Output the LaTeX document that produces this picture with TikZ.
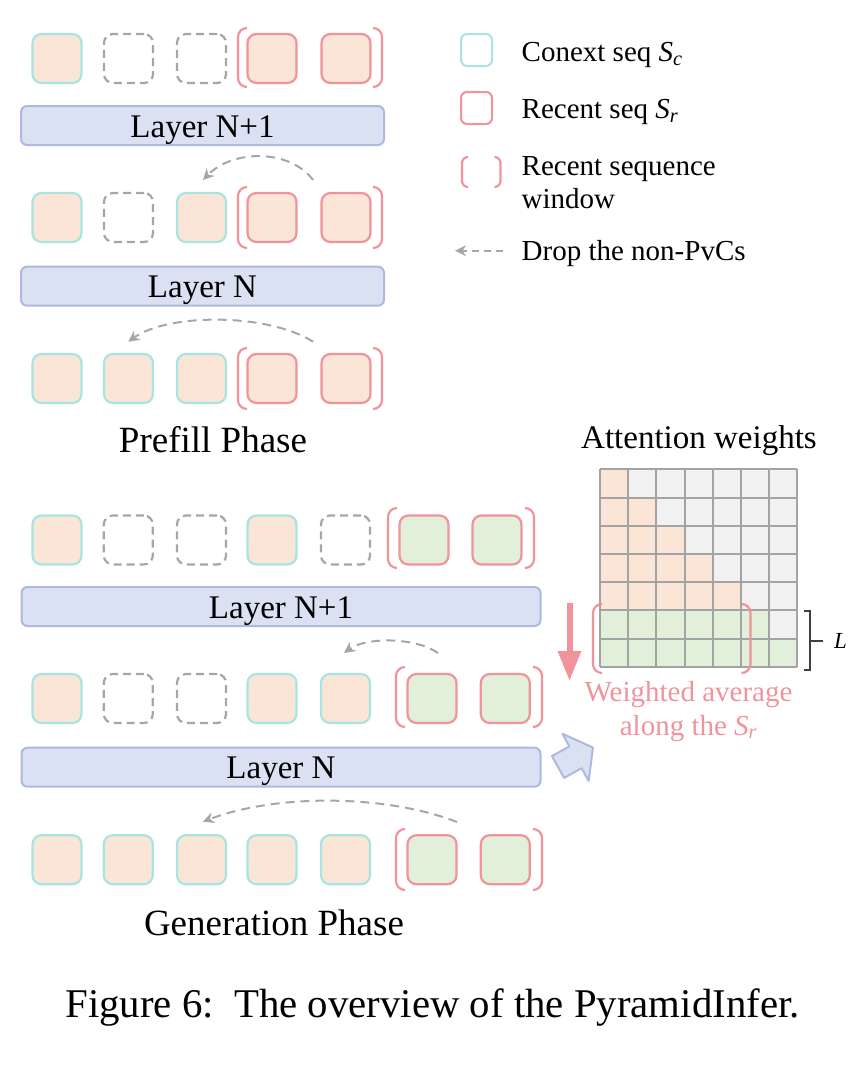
\documentclass[tikz,border=0pt]{standalone}
\usepackage{fontspec}
\setmainfont{Liberation Serif}
\usetikzlibrary{arrows.meta}
\definecolor{peach}{HTML}{FBE5D6}
\definecolor{cyanb}{HTML}{A6E5E1}
\definecolor{pinkb}{HTML}{F0939B}
\definecolor{greenf}{HTML}{E2EFDA}
\definecolor{greyd}{HTML}{A6A6A6}
\definecolor{barf}{HTML}{DAE1F3}
\definecolor{barb}{HTML}{AEB9DE}
\definecolor{gridc}{HTML}{A3A3A3}
\definecolor{cellg}{HTML}{F1F1F1}
\definecolor{darkb}{HTML}{404040}
\newcommand\recbr[5]{%
  \draw[brk,rounded corners=#5] (#1+#5,#3) -- (#1,#3) -- (#1,#4) -- (#1+#5,#4);
  \draw[brk,rounded corners=#5] (#2-#5,#3) -- (#2,#3) -- (#2,#4) -- (#2-#5,#4);}
\begin{document}
\begin{tikzpicture}[x=1pt,y=-1pt,
  tok/.style={line width=2.2pt, rounded corners=9pt, minimum width=49pt, minimum height=49pt, inner sep=0pt},
  ctx/.style={tok, draw=cyanb, fill=peach},
  rec/.style={tok, draw=pinkb, fill=peach},
  recg/.style={tok, draw=pinkb, fill=greenf},
  drop/.style={tok, draw=greyd, dash pattern=on 8pt off 5pt},
  brk/.style={draw=pinkb, line width=2.2pt},
  layerbar/.style={draw=barb, fill=barf, line width=2pt, rounded corners=6pt, minimum height=39pt, text height=23pt, text depth=0pt, inner sep=0pt, font=\fontsize{33}{40}\selectfont},
  dropar/.style={draw=greyd, line width=2pt, dash pattern=on 9pt off 6pt, -{Stealth[length=11pt,width=11pt,inset=3.5pt]}},
  lgd/.style={anchor=base west, inner sep=0pt, font=\fontsize{29}{34}\selectfont},
  phase/.style={anchor=base, inner sep=0pt, font=\fontsize{37}{44}\selectfont},
  ptxt/.style={anchor=base, inner sep=0pt, text=pinkb, font=\fontsize{29}{34}\selectfont}
]
\useasboundingbox (0,0) rectangle (860,1068);

% ---------- Prefill phase ----------
\node[ctx]  (p1a) at (57,58.5) {};
\node[drop] (p1b) at (128.5,58.5) {};
\node[drop] (p1c) at (201.5,58.5) {};
\node[rec]  (p1d) at (272,58.5) {};
\node[rec]  (p1e) at (346,58.5) {};
\recbr{238}{382}{28}{87}{9}
\node[layerbar, minimum width=363pt] (pL1) at (202.5,125.5) {Layer N+1};

\node[ctx]  (p2a) at (57,217.5) {};
\node[drop] (p2b) at (128.5,217.5) {};
\node[ctx]  (p2c) at (201.5,217.5) {};
\node[rec]  (p2d) at (272,217.5) {};
\node[rec]  (p2e) at (346,217.5) {};
\recbr{238}{382}{187}{248}{9}
\node[layerbar, minimum width=363pt] (pL0) at (202.5,286.2) {Layer N};

\node[ctx] (p3a) at (57,378.5) {};
\node[ctx] (p3b) at (128.5,378.5) {};
\node[ctx] (p3c) at (201.5,378.5) {};
\node[rec] (p3d) at (272,378.5) {};
\node[rec] (p3e) at (346,378.5) {};
\recbr{238}{382}{348}{409}{9}

\coordinate (pa1s) at (313,180);
\coordinate (pa1e) at (203,180);
\draw[dropar] (pa1s) .. controls (290,149) and (233,149) .. (pa1e);
\coordinate (pa2s) at (313,341.7);
\coordinate (pa2e) at (128.3,341.7);
\draw[dropar] (pa2s) .. controls (268,313) and (168,313) .. (pa2e);

\node[phase] (prefill) at (213,452) {Prefill Phase};

% ---------- Generation phase ----------
\node[ctx]  (g1a) at (57,540) {};
\node[drop] (g1b) at (128.3,540) {};
\node[drop] (g1c) at (201.5,540) {};
\node[ctx]  (g1d) at (272,540) {};
\node[drop] (g1e) at (345.5,540) {};
\node[recg] (g1f) at (424,540) {};
\node[recg] (g1g) at (497,540) {};
\recbr{388}{534}{508}{568}{9}
\node[layerbar, minimum width=519pt] (gL1) at (281,606.5) {Layer N+1};

\node[ctx]  (g2a) at (57,698.5) {};
\node[drop] (g2b) at (128.3,698.5) {};
\node[drop] (g2c) at (201.5,698.5) {};
\node[ctx]  (g2d) at (272,698.5) {};
\node[ctx]  (g2e) at (345.5,698.5) {};
\node[recg] (g2f) at (432,698.5) {};
\node[recg] (g2g) at (505.3,698.5) {};
\recbr{396}{542}{667}{727}{9}
\node[layerbar, minimum width=519pt] (gL0) at (281,767.2) {Layer N};

\node[ctx]  (g3a) at (57,859.7) {};
\node[ctx]  (g3b) at (128.3,859.7) {};
\node[ctx]  (g3c) at (201.5,859.7) {};
\node[ctx]  (g3d) at (272,859.7) {};
\node[ctx]  (g3e) at (345.5,859.7) {};
\node[recg] (g3f) at (432,859.7) {};
\node[recg] (g3g) at (505.3,859.7) {};
\recbr{396}{542}{829}{890}{9}

\coordinate (ga1s) at (438,653);
\coordinate (ga1e) at (344,653);
\draw[dropar] (ga1s) .. controls (415,637) and (366,637) .. (ga1e);
\coordinate (ga2s) at (457,822);
\coordinate (ga2e) at (203,821.7);
\draw[dropar] (ga2s) .. controls (385,794) and (275,794) .. (ga2e);

\node[phase] (gen) at (274,935) {Generation Phase};

% ---------- Legend ----------
\node[draw=cyanb, line width=2pt, rounded corners=6pt, minimum width=31pt, minimum height=32pt, inner sep=0pt] (lc) at (476.5,50) {};
\node[lgd] (lct) at (521.5,61.7) {Conext seq \textit{S}\textsubscript{\textit{c}}};
\node[draw=pinkb, line width=2pt, rounded corners=6pt, minimum width=31pt, minimum height=32pt, inner sep=0pt] (lr) at (476.5,108) {};
\node[lgd] (lrt) at (521.5,118.3) {Recent seq \textit{S}\textsubscript{\textit{r}}};
\recbr{462}{500.5}{157}{187}{6}
\node[lgd] (lwt1) at (521.5,175) {Recent sequence};
\node[lgd] (lwt2) at (521.5,208.5) {window};
\coordinate (las) at (503,250.7);
\coordinate (lae) at (455,250.7);
\draw[dropar, dash pattern=on 7pt off 5pt] (las) -- (lae);
\node[lgd] (ldt) at (521.5,260) {Drop the non-PvCs};

% ---------- Attention weights ----------
\node[anchor=base, inner sep=0pt, font=\fontsize{33}{40}\selectfont] (attn) at (699,448) {Attention weights};
\fill[cellg] (600,469.3) rectangle (797.7,666.7);
\foreach \r in {0,...,4}{
  \foreach \c in {0,...,\r}{
    \fill[peach] (600+28.2*\c,469.3+28.2*\r) rectangle ++(28.2,28.2);
  }
}
\foreach \c in {0,...,5}{\fill[greenf] (600+28.2*\c,610.3) rectangle ++(28.2,28.2);}
\foreach \c in {0,...,6}{\fill[greenf] (600+28.2*\c,638.5) rectangle ++(28.2,28.2);}
\foreach \i in {0,...,7}{
  \draw[gridc, line width=2pt] (600+28.2*\i,469.3) -- (600+28.2*\i,666.7);
  \draw[gridc, line width=2pt] (600,469.3+28.2*\i) -- (797.4,469.3+28.2*\i);
}
\recbr{593}{750.5}{604}{673}{9}
\draw[darkb, line width=2pt] (804,611) -- (810,611) -- (810,670) -- (804,670);
\draw[darkb, line width=2pt] (810,640.5) -- (823,640.5);
\node[anchor=base west, inner sep=0pt, font=\fontsize{23}{28}\selectfont\itshape] (Lbl) at (834,648) {L};

\coordinate (pas) at (569.5,603);
\coordinate (pae) at (569.5,681);
\draw[pinkb, line width=6pt, -{Triangle[length=30pt,width=22pt]}] (pas) -- (pae);
\node[ptxt] (w1) at (688.5,701) {Weighted average};
\node[ptxt] (w2) at (688.5,735) {along the \textit{S}\textsubscript{\textit{r}}};

\draw[draw=barb, fill=barf, line width=2pt, line join=round]
  (551.9,756.1) -- (569.4,746.4) -- (562.4,733.7) -- (593,747.6) -- (588.6,780.9) -- (581.6,768.2) -- (564.1,777.9) -- cycle;

% ---------- Caption ----------
\node[anchor=base, inner sep=0pt, font=\fontsize{40.8}{48}\selectfont] (cap) at (432.5,1017) {Figure 6:\ \ The overview of the PyramidInfer.};
\end{tikzpicture}
\end{document}
